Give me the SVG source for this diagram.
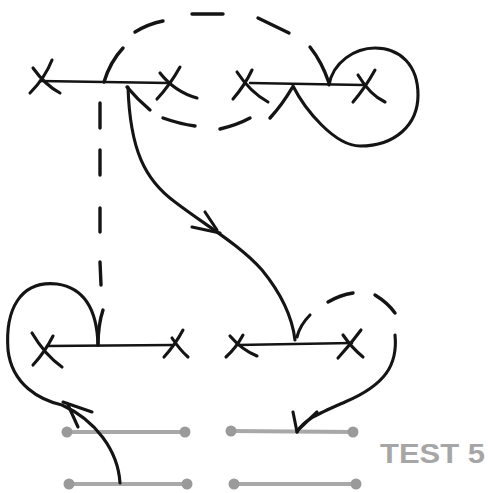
<svg xmlns="http://www.w3.org/2000/svg" width="488" height="493" viewBox="0 0 488 493">
<style>
.ink{fill:none;stroke:#141414;stroke-width:3.1;stroke-linecap:round;stroke-linejoin:round}
.seg{fill:none;stroke:#141414;stroke-width:2.5;stroke-linecap:round}
.dash{fill:none;stroke:#141414;stroke-width:3.4;stroke-linecap:round}
.bar{stroke:#a8a8a8;stroke-width:4;stroke-linecap:round}
.dot{fill:#9a9a9a}
.lbl{font-family:"Liberation Sans",Arial,sans-serif;font-size:28px;font-weight:bold;fill:#a6a6a6}
</style>
<rect width="488" height="493" fill="#fff"/>
<g id="node-top-left">
<path class="seg" d="M40,81 L168,83"/>
<path class="ink" d="M52,60 Q45,78 30,93 M33,68 Q45,85 60,93"/>
<path class="ink" d="M180,67 Q170,85 157,99 M160,73 Q175,92 197,98"/>
</g>
<g id="node-top-right">
<path class="seg" d="M250,83 L363,85"/>
<path class="ink" d="M252,70 Q245,85 233,99 M237,72 Q250,92 268,102"/>
<path class="ink" d="M375,70 Q365,88 353,102 M358,75 Q370,95 385,102"/>
</g>
<g id="node-bottom-left">
<path class="seg" d="M47,346 L173,345"/>
<path class="ink" d="M53,336 Q45,352 33,365 M32,333 Q45,355 62,367"/>
<path class="ink" d="M183,330 Q175,345 164,357 M172,338 Q180,350 188,357"/>
</g>
<g id="node-bottom-right">
<path class="seg" d="M237,345 L352,343"/>
<path class="ink" d="M243,335 Q236,348 226,357 M230,336 Q242,350 257,356"/>
<path class="ink" d="M361,330 Q350,345 338,358 M343,335 Q352,348 363,357"/>
</g>
<g id="node-bars">
<line class="bar" x1="67" y1="432" x2="185" y2="432"/>
<line class="bar" x1="231" y1="431" x2="353" y2="432"/>
<line class="bar" x1="69" y1="484" x2="187" y2="484"/>
<line class="bar" x1="234" y1="484" x2="356" y2="484"/>
<circle class="dot" cx="67" cy="432" r="5.5"/>
<circle class="dot" cx="185" cy="432" r="5.5"/>
<circle class="dot" cx="231" cy="431" r="5.5"/>
<circle class="dot" cx="353" cy="432" r="5.5"/>
<circle class="dot" cx="69" cy="484" r="5.5"/>
<circle class="dot" cx="187" cy="484" r="5.5"/>
<circle class="dot" cx="234" cy="484" r="5.5"/>
<circle class="dot" cx="356" cy="484" r="5.5"/>
</g>
<g id="label">
<text class="lbl" x="380" y="463" textLength="105" lengthAdjust="spacingAndGlyphs">TEST 5</text>
</g>
<g id="connectors">
<path class="dash" d="M104,82 Q110,62 123,48"/>
<path class="dash" d="M135,32 Q148,24 163,21"/>
<path class="dash" d="M192,14 L223,14"/>
<path class="dash" d="M258,18 L289,33"/>
<path class="dash" d="M310,47 Q322,62 329,83"/>
<path class="dash" d="M127,87 Q138,100 150,110"/>
<path class="dash" d="M163,118 Q180,124 195,126"/>
<path class="dash" d="M220,129 Q237,125 250,118"/>
<path class="dash" d="M270,118 Q282,105 292,88"/>
<path class="ink" d="M329,85 C333,62 355,48 375,48 C400,48 418,65 418,95 C418,125 395,146 360,146 C335,146 305,110 293,86"/>
<path class="ink" d="M128,87 C130,150 145,180 175,202 C205,225 240,245 262,270 C280,292 292,315 295,340"/>
<path class="ink" d="M192,227 L220,233 M205,212 L217,230"/>
<path class="ink" d="M310,315 Q300,325 297,337"/>
<path class="dash" d="M100,103 L100,128 M100,150 L100,175 M100,208 L100,232 M100,262 L101,285"/>
<path class="dash" d="M103,310 Q98,325 98,345"/>
<path class="ink" d="M98,345 C97,310 85,288 57,284 C20,280 5,310 8,350 C12,385 40,400 62,405 C95,420 118,450 120,483"/>
<path class="ink" d="M63,402 L92,412 M68,405 L78,427"/>
<path class="dash" d="M328,302 Q340,295 353,293"/>
<path class="dash" d="M375,295 Q388,303 395,313"/>
<path class="ink" d="M395,335 C398,365 385,385 345,402 C320,413 303,420 297,432"/>
<path class="ink" d="M293,412 L297,432 M317,412 L298,430"/>
</g>
</svg>
